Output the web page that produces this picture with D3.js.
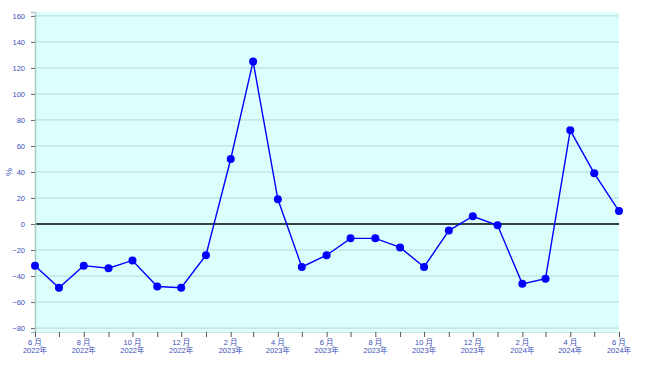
<!DOCTYPE html>
<html>
<head>
<meta charset="utf-8">
<script src="https://cdn.jsdelivr.net/npm/d3@7"></script>
<style>
  body { margin: 0; background: #fff; }
  text { font-family: "Liberation Sans", "Noto Sans CJK JP", sans-serif; }
</style>
</head>
<body>
<svg id="Target" width="647" height="372"></svg>
<script>
const months = ["2022-06","2022-07","2022-08","2022-09","2022-10","2022-11","2022-12",
  "2023-01","2023-02","2023-03","2023-04","2023-05","2023-06","2023-07","2023-08",
  "2023-09","2023-10","2023-11","2023-12","2024-01","2024-02","2024-03","2024-04",
  "2024-05","2024-06"];
const values = [-32, -49, -32, -34, -28, -48, -49, -24, 50, 125, 19, -33, -24, -11, -11,
  -18, -33, -5, 6, -1, -46, -42, 72, 39, 10];
const yTicks = [-80, -60, -40, -20, 0, 20, 40, 60, 80, 100, 120, 140, 160];

const [width, height] = [647, 372];
const margin = {top: 12, right: 28, bottom: 40, left: 35};

const svg = d3.select("#Target");
const parse = d3.timeParse("%Y-%m");
const data = months.map((m, i) => ({date: parse(m), value: values[i]}));

const x = d3.scaleTime()
    .domain(d3.extent(data, d => d.date))
    .range([margin.left, width - margin.right]);

const y = d3.scaleLinear()
    .domain([-83, 163])
    .range([height - margin.bottom, margin.top]);

// plot background
svg.append("rect")
    .attr("x", margin.left)
    .attr("y", margin.top)
    .attr("width", width - margin.left - margin.right)
    .attr("height", height - margin.top - margin.bottom)
    .attr("fill", "#dcfefd");

// grid lines
svg.append("g")
    .selectAll("line")
    .data(yTicks.filter(d => d !== 0))
    .join("line")
    .attr("x1", margin.left)
    .attr("x2", width - margin.right)
    .attr("y1", d => y(d))
    .attr("y2", d => y(d))
    .attr("stroke", "#b4dbd5")
    .attr("stroke-width", 1);

// zero line
svg.append("line")
    .attr("x1", margin.left)
    .attr("x2", width - margin.right)
    .attr("y1", y(0))
    .attr("y2", y(0))
    .attr("stroke", "#000")
    .attr("stroke-width", 1.5);

// y axis
const yAxis = svg.append("g")
    .attr("transform", `translate(${margin.left},0)`)
    .call(d3.axisLeft(y).tickValues(yTicks).tickSize(4).tickPadding(6));
yAxis.select(".domain").attr("stroke", "#a9c9c6").attr("stroke-width", 1.5);
yAxis.selectAll(".tick line").attr("stroke", "#666");
yAxis.selectAll("text").attr("fill", "#3a4fb8").attr("font-size", 7.5);

svg.append("text")
    .attr("transform", `translate(12,${y(40)}) rotate(-90)`)
    .attr("text-anchor", "middle")
    .attr("fill", "#3a4fb8")
    .attr("font-size", 9)
    .text("%");

// x axis
const xAxis = svg.append("g")
    .attr("transform", `translate(0,${height - margin.bottom})`)
    .call(d3.axisBottom(x).tickValues(data.map(d => d.date)).tickSize(5).tickFormat(""));
xAxis.select(".domain").attr("stroke", "#c8e8e6");
xAxis.selectAll(".tick line").attr("stroke", "#555");

const labels = svg.append("g")
    .selectAll("text")
    .data(data.filter((d, i) => i % 2 === 0))
    .join("text")
    .attr("text-anchor", "middle")
    .attr("fill", "#3a4fb8")
    .attr("font-size", 7.5);
labels.append("tspan")
    .attr("x", d => x(d.date))
    .attr("y", height - margin.bottom + 13)
    .text(d => (d.date.getMonth() + 1) + " 月");
labels.append("tspan")
    .attr("x", d => x(d.date))
    .attr("y", height - margin.bottom + 21)
    .text(d => d.date.getFullYear() + "年");

// line + markers
const line = d3.line()
    .x(d => x(d.date))
    .y(d => y(d.value));

svg.append("path")
    .datum(data)
    .attr("fill", "none")
    .attr("stroke", "#0000ff")
    .attr("stroke-width", 1.4)
    .attr("d", line);

svg.append("g")
    .selectAll("circle")
    .data(data)
    .join("circle")
    .attr("cx", d => x(d.date))
    .attr("cy", d => y(d.value))
    .attr("r", 4)
    .attr("fill", "#0000ff");
</script>
</body>
</html>
